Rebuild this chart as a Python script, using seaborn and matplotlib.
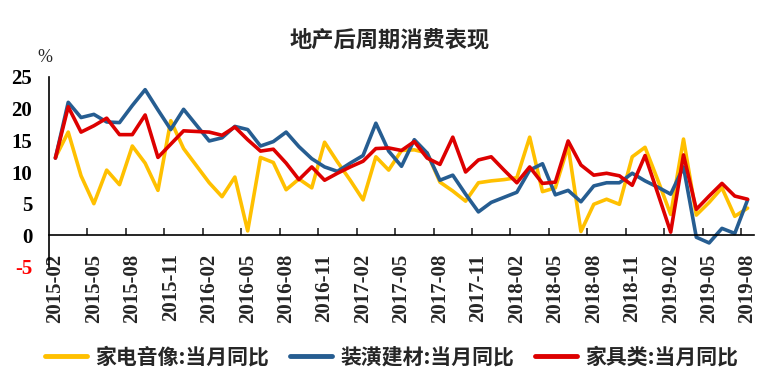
import matplotlib
matplotlib.use("Agg")
import matplotlib.pyplot as plt
import seaborn as sns
import pandas as pd
import numpy as np

# 数据：2015-02 至 2019-08 月度同比（%）
months = pd.date_range("2015-02-01", "2019-08-01", freq="MS").strftime("%Y-%m").tolist()

jiadian = [12.3, 16.3, 9.4, 5.0, 10.3, 8.0, 14.1, 11.4, 7.1, 18.1,
           13.7, 11.0, 8.3, 6.1, 9.2, 0.7, 12.3, 11.5, 7.2, 8.9,
           7.5, 14.7, 11.6, 8.7, 5.6, 12.4, 10.3, 13.4, 13.5, 13.0,
           8.4, 7.0, 5.4, 8.3, 8.6, 8.8, 9.1, 15.5, 6.9, 7.5,
           14.1, 0.6, 4.9, 5.7, 4.9, 12.4, 13.9, 8.7, 3.3, 15.2,
           3.2, 5.2, 7.5, 3.0, 4.3]
zhuanghuang = [12.2, 21.0, 18.6, 19.1, 17.9, 17.8, 20.5, 23.0, 19.8, 16.7,
               19.9, 17.4, 14.9, 15.4, 17.2, 16.7, 14.1, 14.8, 16.3, 14.0,
               12.1, 10.8, 10.1, 11.4, 12.6, 17.7, 13.3, 10.9, 15.1, 13.0,
               8.7, 9.5, 6.5, 3.7, 5.2, 6.0, 6.8, 10.3, 11.3, 6.4,
               7.1, 5.3, 7.8, 8.3, 8.3, 9.8, 8.6, 7.6, 6.5, 10.8,
               -0.3, -1.2, 1.1, 0.3, 5.6]
jiaju = [12.2, 20.3, 16.3, 17.3, 18.5, 15.9, 15.9, 19.0, 12.3, 14.4,
         16.5, 16.4, 16.3, 15.8, 17.1, 15.1, 13.3, 13.6, 11.4, 8.8,
         10.8, 8.7, 9.8, 10.8, 11.7, 13.7, 13.8, 13.4, 14.8, 12.2,
         11.2, 15.5, 10.0, 11.9, 12.4, 10.3, 8.3, 10.8, 8.2, 8.4,
         14.9, 11.1, 9.5, 9.8, 9.4, 7.9, 12.6, 6.6, 0.5, 12.7,
         4.1, 6.2, 8.2, 6.2, 5.7]

series_names = ["家电音像:当月同比", "装潢建材:当月同比", "家具类:当月同比"]
colors = ["#FFC000", "#265D91", "#DD0000"]

n = len(months)
df = pd.DataFrame({
    "idx": list(range(n)) * 3,
    "value": jiadian + zhuanghuang + jiaju,
    "series": [series_names[0]] * n + [series_names[1]] * n + [series_names[2]] * n,
})

sns.set_theme(style="white")
plt.rcParams["font.family"] = ["Liberation Serif", "Noto Sans CJK SC"]
CJK = ["Noto Sans CJK SC", "DejaVu Sans"]

fig, ax = plt.subplots(figsize=(7.71, 3.89), dpi=100)
fig.subplots_adjust(left=49 / 771, right=754 / 771, top=1 - 77 / 389, bottom=1 - 267 / 389)

sns.lineplot(data=df, x="idx", y="value", hue="series", palette=colors,
             linewidth=2.6, ax=ax)

ax.set_xlim(-0.5, 54.5)
ax.set_ylim(-5, 25)
ax.set_xlabel("")
ax.set_ylabel("")

# 轴线：x 轴在 0 处
for s in ["top", "right"]:
    ax.spines[s].set_visible(False)
ax.spines["bottom"].set_position(("data", 0))
for s in ["left", "bottom"]:
    ax.spines[s].set_color("black")
    ax.spines[s].set_linewidth(1.2)

yt = list(range(-5, 26, 5))
ax.set_yticks(yt, [str(v) for v in yt], fontsize=15, fontweight="bold")
ax.tick_params(axis="y", direction="in", length=5, width=1.2, pad=12, colors="black")
ax.get_yticklabels()[0].set_color("red")

xt = list(range(0, n, 3))
ax.set_xticks(xt, [months[i] for i in xt], rotation=90, fontsize=15, fontweight="bold")
ax.set_xticks(np.arange(2.5, n - 1, 3), minor=True)
ax.tick_params(axis="x", which="major", length=0, pad=13)
ax.tick_params(axis="x", which="minor", direction="in", length=5, width=1.2, bottom=True)

ax.text(-0.006, 1.1, "%", transform=ax.transAxes, ha="center", va="center", fontsize=13)

fig.text(0.505, 1 - 40 / 389, "地产后周期消费表现", ha="center", va="center",
         fontsize=16, fontweight="bold", family=CJK)

handles, labels = ax.get_legend_handles_labels()
ax.get_legend().remove()
for h in handles:
    h.set_linewidth(3.5)
fig.legend(handles, labels, loc="center", bbox_to_anchor=(0.508, 0.082), ncol=3,
           frameon=False, handlelength=2.0, handletextpad=0.4, columnspacing=1.0,
           prop={"family": CJK, "size": 15, "weight": "bold"})

fig.savefig("out.png", dpi=100)
